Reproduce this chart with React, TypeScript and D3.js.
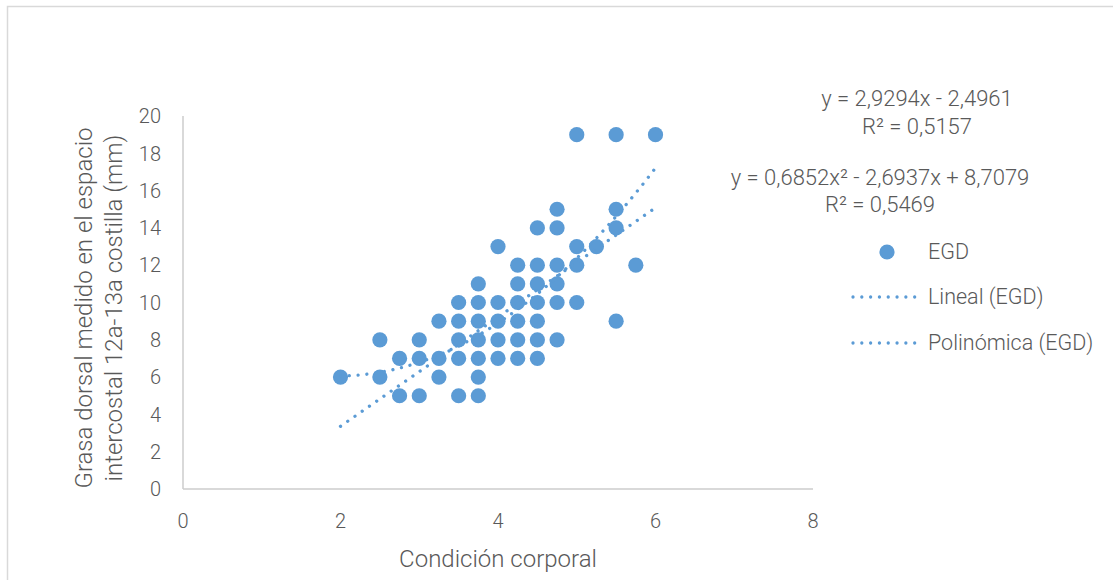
import React from "react";
import * as d3 from "d3";

// Condición corporal (x) and EGD (y) pairs
const condicion: number[] = [
  2,
  2.5, 2.5,
  2.75, 2.75,
  3, 3, 3,
  3.25, 3.25, 3.25,
  3.5, 3.5, 3.5, 3.5, 3.5,
  3.75, 3.75, 3.75, 3.75, 3.75, 3.75, 3.75,
  4, 4, 4, 4, 4,
  4.25, 4.25, 4.25, 4.25, 4.25, 4.25,
  4.5, 4.5, 4.5, 4.5, 4.5, 4.5, 4.5,
  4.75, 4.75, 4.75, 4.75, 4.75, 4.75,
  5, 5, 5, 5,
  5.25,
  5.5, 5.5, 5.5, 5.5,
  5.75,
  6,
];
const egd: number[] = [
  6,
  8, 6,
  7, 5,
  8, 7, 5,
  9, 7, 6,
  10, 9, 8, 7, 5,
  11, 10, 9, 8, 7, 6, 5,
  13, 10, 9, 8, 7,
  12, 11, 10, 9, 8, 7,
  14, 12, 11, 10, 9, 8, 7,
  15, 14, 12, 11, 10, 8,
  19, 13, 12, 10,
  13,
  19, 15, 14, 9,
  12,
  19,
];

const xTicks = [0, 2, 4, 6, 8];
const yTicks = [0, 2, 4, 6, 8, 10, 12, 14, 16, 18, 20];

// Trendline coefficients (as printed on the chart)
const linCoef = { a: 2.9294, b: -2.4961 };
const polyCoef = { a: 0.6852, b: -2.6937, c: 8.7079 };
const trendRange = [2, 6];

const eqLabels = [
  "y = 2,9294x - 2,4961",
  "R² = 0,5157",
  "y = 0,6852x² - 2,6937x + 8,7079",
  "R² = 0,5469",
];
const legendLabels = ["EGD", "Lineal (EGD)", "Polinómica (EGD)"];

const BLUE = "#5B9BD5";
const TXT = "#595959";
const FONT = "Roboto, 'Open Sans', sans-serif";

export default function App() {
  const x = d3.scaleLinear().domain([0, 8]).range([183, 813]);
  const y = d3.scaleLinear().domain([0, 20]).range([489, 116]);

  const steps = d3.range(trendRange[0], trendRange[1] + 1e-9, 0.02);
  const lineGen = d3
    .line<[number, number]>()
    .x((d) => x(d[0]))
    .y((d) => y(d[1]));
  const linPath = lineGen(steps.map((v) => [v, linCoef.a * v + linCoef.b]));
  const polyPath = lineGen(
    steps.map((v) => [v, polyCoef.a * v * v + polyCoef.b * v + polyCoef.c])
  );

  const dotted = {
    fill: "none",
    stroke: BLUE,
    strokeWidth: 3.3,
    strokeLinecap: "round" as const,
    strokeDasharray: "0.01 8.8",
  };

  return (
    <svg
      width={1113}
      height={580}
      style={{ position: "absolute", left: 0, top: 0, display: "block", background: "#fff" }}
      fontFamily={FONT}
      fontWeight={300}
    >
      <rect x={0} y={0} width={1113} height={580} fill="#fff" />
      <rect x={7.5} y={6.5} width={1200} height={700} fill="none" stroke="#d9d9d9" strokeWidth={1.5} />

      {/* axes */}
      <line x1={x(0)} x2={x(0)} y1={y(20)} y2={y(0)} stroke="#cccccc" strokeWidth={1.5} />
      <line x1={x(0)} x2={x(8)} y1={y(0)} y2={y(0)} stroke="#cccccc" strokeWidth={1.5} />

      {yTicks.map((t) => (
        <text key={"y" + t} x={161} y={y(t)} dy="0.36em" textAnchor="end" fontSize={20} fill={TXT}>
          {t}
        </text>
      ))}
      {xTicks.map((t) => (
        <text key={"x" + t} x={x(t)} y={528} textAnchor="middle" fontSize={20} fill={TXT}>
          {t}
        </text>
      ))}

      <text x={498} y={567} textAnchor="middle" fontSize={24} fill={TXT}>
        Condición corporal
      </text>
      <g transform="translate(0,308) rotate(-90)">
        <text x={0} y={92} textAnchor="middle" fontSize={24} fill={TXT}>
          Grasa dorsal medido en el espacio
        </text>
        <text x={0} y={122} textAnchor="middle" fontSize={24} fill={TXT}>
          intercostal 12a-13a costilla (mm)
        </text>
      </g>

      {/* points */}
      {condicion.map((cx, i) => (
        <circle key={i} cx={x(cx)} cy={y(egd[i])} r={7.6} fill={BLUE} />
      ))}

      {/* trendlines */}
      <path d={linPath || ""} {...dotted} />
      <path d={polyPath || ""} {...dotted} />

      {/* equations */}
      <text x={917} y={106} textAnchor="middle" fontSize={22} fill={TXT}>{eqLabels[0]}</text>
      <text x={917} y={134} textAnchor="middle" fontSize={22} fill={TXT}>{eqLabels[1]}</text>
      <text x={880} y={185} textAnchor="middle" fontSize={22} fill={TXT}>{eqLabels[2]}</text>
      <text x={880} y={212} textAnchor="middle" fontSize={22} fill={TXT}>{eqLabels[3]}</text>

      {/* legend */}
      <circle cx={887} cy={252} r={7.6} fill={BLUE} />
      <text x={928} y={259} fontSize={21.5} fill={TXT}>{legendLabels[0]}</text>
      <line x1={853} x2={916} y1={297} y2={297} {...dotted} />
      <text x={928} y={304} fontSize={21.5} fill={TXT}>{legendLabels[1]}</text>
      <line x1={853} x2={916} y1={343} y2={343} {...dotted} />
      <text x={928} y={350} fontSize={21.5} fill={TXT}>{legendLabels[2]}</text>
    </svg>
  );
}
